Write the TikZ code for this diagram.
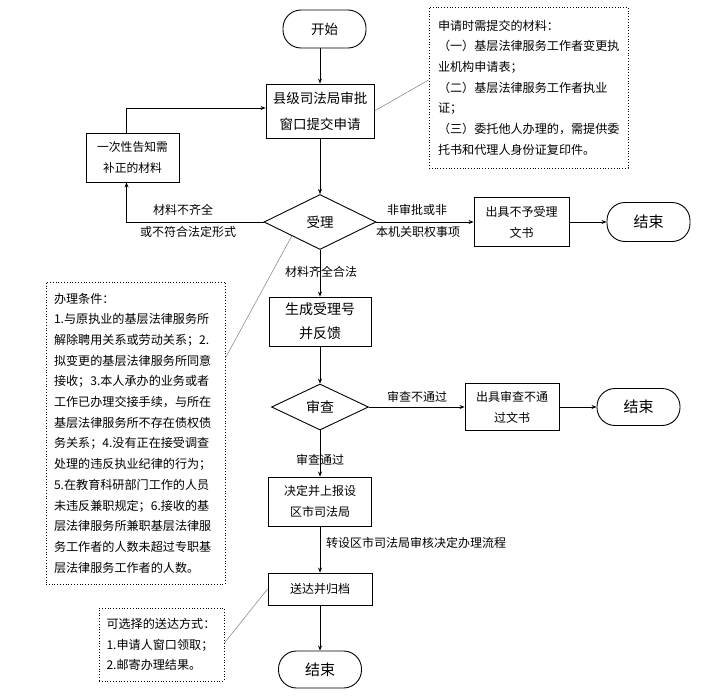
\documentclass[tikz,border=0pt]{standalone}
\usepackage{fontspec}
\setmainfont{Noto Sans CJK SC}
\usetikzlibrary{shapes.geometric,arrows.meta}
\begin{document}
\begin{tikzpicture}[x=1pt,y=-1pt,
  box/.style={draw,line width=0.9pt,inner sep=0pt,align=center,font=\fontsize{12}{19}\selectfont},
  term/.style={draw,line width=0.9pt,rounded corners=18pt,inner sep=0pt,font=\fontsize{15}{18}\selectfont},
  dec/.style={draw,diamond,line width=0.9pt,inner sep=0pt,aspect=2},
  note/.style={draw,dotted,line width=0.8pt,inner ysep=0pt,align=left,font=\fontsize{12.1}{20.7}\selectfont},
  lbl/.style={font=\fontsize{12}{14}\selectfont,inner sep=0pt},
  arr/.style={-{Stealth[length=5pt,width=4pt]},line width=0.8pt},
  leader/.style={gray,line width=0.5pt}
]
\fill[white] (0,0) rectangle (710,696);
\useasboundingbox (0,0) rectangle (710,696);

% main column
\node[term,minimum width=83pt,minimum height=38pt,font=\fontsize{13.5}{16}\selectfont] (start) at (324.5,29) {开始};
\node[box,minimum width=108pt,minimum height=54pt,font=\fontsize{13.5}{26}\selectfont] (apply) at (320,111) {县级司法局审批\\窗口提交申请};
\node[dec,minimum width=112pt,minimum height=55pt,font=\fontsize{13.5}{16}\selectfont] (accept) at (320,222) {受理};
\node[box,minimum width=102pt,minimum height=49pt,font=\fontsize{14}{24}\selectfont] (gen) at (320,321.5) {生成受理号\\并反馈};
\node[dec,minimum width=97pt,minimum height=46pt,font=\fontsize{14}{16}\selectfont] (review) at (320,407) {审查};
\node[box,minimum width=103pt,minimum height=49pt,font=\fontsize{12}{21}\selectfont] (decide) at (320,501.5) {决定并上报设\\区市司法局};
\node[box,minimum width=104pt,minimum height=32pt] (send) at (320,589) {送达并归档};
\node[term,minimum width=83pt,minimum height=37pt] (end3) at (320,669.5) {结束};

% side boxes
\node[box,minimum width=93pt,minimum height=49pt,font=\fontsize{11.8}{21}\selectfont] (notify) at (132.5,157.5) {一次性告知需\\补正的材料};
\node[box,minimum width=95pt,minimum height=49pt,font=\fontsize{12}{21}\selectfont] (rej1) at (521.5,222) {出具不予受理\\文书};
\node[term,minimum width=83pt,minimum height=39pt] (end1) at (648.5,222) {结束};
\node[box,minimum width=94pt,minimum height=47pt,font=\fontsize{12}{21}\selectfont] (rej2) at (512,407) {出具审查不通\\过文书};
\node[term,minimum width=83pt,minimum height=37pt] (end2) at (638.5,407) {结束};

% notes
\node[note,text width=181pt,inner xsep=9pt,minimum height=161pt] (note1) at (528.5,87.5) {申请时需提交的材料：\\（一）基层法律服务工作者变更执\\业机构申请表；\\（二）基层法律服务工作者执业\\证；\\（三）委托他人办理的，需提供委\\托书和代理人身份证复印件。};
\node[note,text width=163pt,inner xsep=8pt,minimum height=302pt] (note2) at (135.5,433) {办理条件：\\1.与原执业的基层法律服务所\\解除聘用关系或劳动关系；2.\\拟变更的基层法律服务所同意\\接收；3.本人承办的业务或者\\工作已办理交接手续，与所在\\基层法律服务所不存在债权债\\务关系；4.没有正在接受调查\\处理的违反执业纪律的行为；\\5.在教育科研部门工作的人员\\未违反兼职规定；6.接收的基\\层法律服务所兼职基层法律服\\务工作者的人数未超过专职基\\层法律服务工作者的人数。};
\node[note,text width=110pt,inner xsep=7.5pt,minimum height=73pt] (note3) at (161.5,644.5) {可选择的送达方式：\\1.申请人窗口领取；\\2.邮寄办理结果。};

% main arrows
\draw[arr] (start.south -| apply.north) -- (apply.north);
\draw[arr] (apply) -- (accept);
\draw[arr] (accept) -- (gen);
\draw[arr] (gen) -- (review);
\draw[arr] (review) -- (decide);
\draw[arr] (decide) -- (send);
\draw[arr] (send) -- (end3);

% side arrows
\coordinate (nb) at ([xshift=-6pt]notify.south);
\coordinate (nt) at ([xshift=-6pt]notify.north);
\draw[arr] (accept.west) -| (nb);
\draw[arr] (nt) |- ([yshift=3pt]apply.west);
\draw[arr] (accept.east) -- (rej1.west);
\draw[arr] (rej1.east) -- (end1.west);
\draw[arr] (review.east) -- (rej2.west);
\draw[arr] (rej2.east) -- (end2.west);

% leader lines
\draw[leader] (apply.east) -- (note1.west |- 0,80);
\draw[leader] (note2.east |- 0,358) -- (accept.south west);
\draw[leader] (note3.east |- 0,643) -- (send.west);

% labels
\node[lbl] (l1) at (183,210) {材料不齐全};
\node[lbl] (l2) at (188,232) {或不符合法定形式};
\node[lbl] (l3) at (417,210) {非审批或非};
\node[lbl] (l4) at (418,232) {本机关职权事项};
\node[lbl] (l5) at (321,272) {材料齐全合法};
\node[lbl] (l6) at (417,397) {审查不通过};
\node[lbl] (l7) at (320,460) {审查通过};
\node[lbl,anchor=west] (l8) at (326,543) {转设区市司法局审核决定办理流程};
\end{tikzpicture}
\end{document}
